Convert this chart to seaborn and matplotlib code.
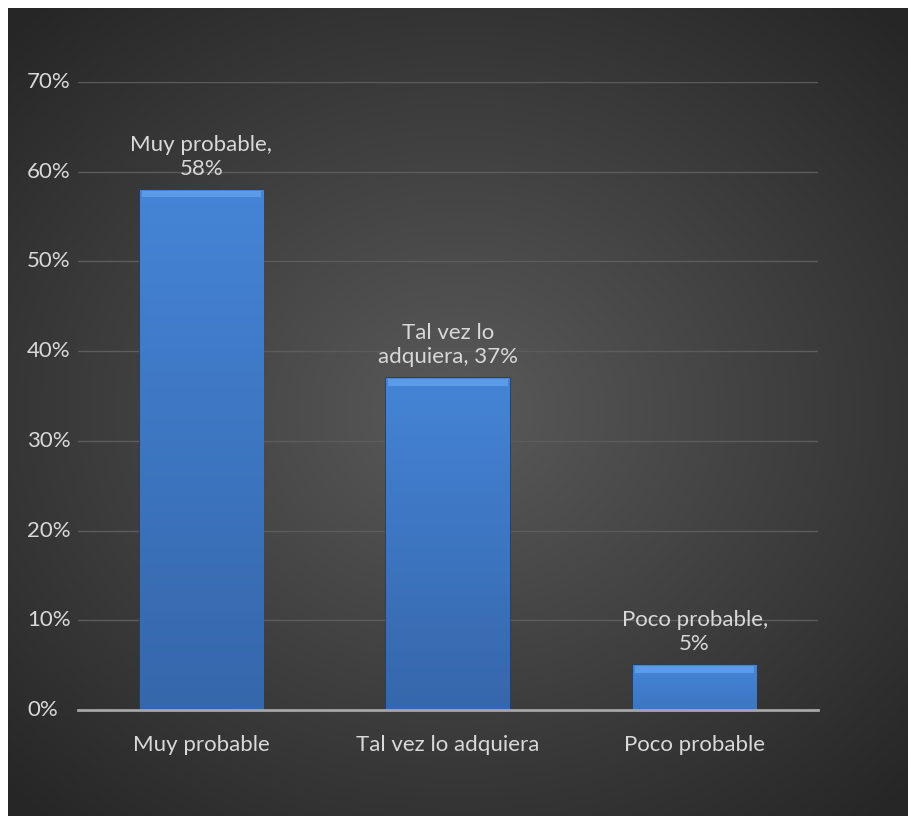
import numpy as np
import pandas as pd
import seaborn as sns
import matplotlib.pyplot as plt
import matplotlib.transforms as mtransforms
from matplotlib.colors import LinearSegmentedColormap

categories = ['Muy probable', 'Tal vez lo adquiera', 'Poco probable']
values = [0.58, 0.37, 0.05]
label_texts = ['Muy probable,\n58%', 'Tal vez lo\nadquiera, 37%', 'Poco probable,\n5%']
yticks = [0, 0.1, 0.2, 0.3, 0.4, 0.5, 0.6, 0.7]
ytick_labels = ['0%', '10%', '20%', '30%', '40%', '50%', '60%', '70%']

df = pd.DataFrame({'cat': categories, 'val': values})

sns.set_style('dark')
plt.rcParams['font.family'] = ['Lato', 'DejaVu Sans']
txt_color = '#d9d9d9'
fs = 16

fig = plt.figure(figsize=(9.08, 8.16), dpi=100)
fig.patch.set_facecolor('white')

# radial gradient background (chart area)
bg = fig.add_axes([8 / 908, 0, 900 / 908, 808 / 816])
yy, xx = np.mgrid[-1:1:400j, -1:1:400j]
r = np.sqrt((xx * 0.95) ** 2 + (yy * 1.0) ** 2)
grad = np.clip(1 - r / 1.35, 0, 1)
bg.imshow(grad, cmap=sns.blend_palette(['#262626', '#5a5a5a'], as_cmap=True),
          extent=[0, 1, 0, 1], aspect='auto', vmin=0, vmax=1)
bg.axis('off')

ax = fig.add_axes([78 / 908, (816 - 710) / 816, 740 / 908, 628 / 816])
ax.patch.set_alpha(0)
sns.barplot(data=df, x='cat', y='val', ax=ax, width=0.5, color='#3f7fd0',
            edgecolor='#1f3f6e', linewidth=1.2, saturation=1)
ax.set_ylim(0, 0.7)
ax.set_xlim(-0.5, 2.5)

# vertical gradient fill + light bevel at the top of each bar
bar_cmap = LinearSegmentedColormap.from_list('bar', ['#3567ab', '#4584d6'])
for p in list(ax.patches):
    x0, w, h = p.get_x(), p.get_width(), p.get_height()
    g = np.linspace(1, 0, 100).reshape(-1, 1) if h > 0.2 else np.linspace(1, 0.5, 100).reshape(-1, 1)
    im = ax.imshow(g, cmap=bar_cmap, extent=[x0, x0 + w, 0, h], aspect='auto',
                   vmin=0, vmax=1, zorder=2.5)
    im.set_clip_path(p)
    ax.bar(x0 + w / 2, 0.007, width=w * 0.97, bottom=h - 0.0085,
           color='#5c9be6', linewidth=0, zorder=3)

ax.set_xlim(-0.5, 2.5)
ax.set_ylim(0, 0.7)
ax.set_yticks(yticks)
ax.set_yticklabels([])
ax.grid(axis='y', color='#5c5c5c', linewidth=1)
ax.grid(axis='x', visible=False)
ax.set_axisbelow(True)
for s in ['top', 'right', 'left']:
    ax.spines[s].set_visible(False)
ax.spines['bottom'].set_color('#a6a6a6')
ax.spines['bottom'].set_linewidth(2)
ax.spines['bottom'].set_zorder(4)
ax.tick_params(axis='both', length=0, colors=txt_color, labelsize=fs)
ax.tick_params(axis='x', pad=18)
ax.set_xlabel('')
ax.set_ylabel('')

# left aligned percentage labels
trans = mtransforms.blended_transform_factory(ax.transAxes, ax.transData)
for v, t in zip(yticks, ytick_labels):
    ax.text(-51 / 740, v, t, transform=trans, ha='left', va='center',
            color=txt_color, fontsize=fs)

for i, (v, t) in enumerate(zip(values, label_texts)):
    ax.annotate(t, (i, v), xytext=(0, 8), textcoords='offset points',
                ha='center', va='bottom', color=txt_color, fontsize=fs,
                linespacing=1.25)

fig.savefig('out.png', dpi=100)
